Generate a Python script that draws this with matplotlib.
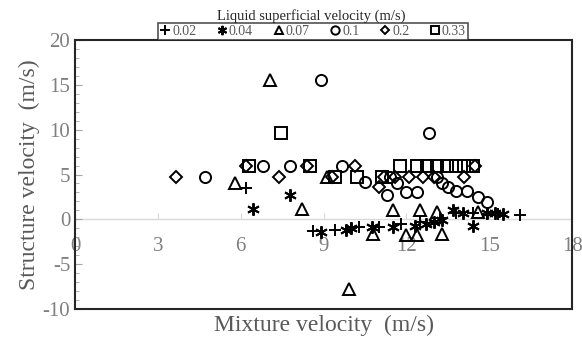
#!/usr/bin/env python3
"""
Structure velocity vs. mixture velocity, grouped by liquid superficial velocity.
"""

import matplotlib
matplotlib.use('Agg')
import matplotlib.pyplot as plt
from matplotlib.ticker import MultipleLocator

plt.rcParams['font.family'] = ['Liberation Serif', 'DejaVu Serif']
plt.rcParams['axes.unicode_minus'] = False

GRAY = '#595959'

# Liquid superficial velocity groups (m/s)
labels = ['0.02', '0.04', '0.07', '0.1', '0.2', '0.33']

x_002 = [6.2, 8.6, 9.4, 10.0, 10.3, 11.0, 11.8, 12.5, 13.2, 13.8, 14.4, 14.9, 15.3, 16.1]
y_002 = [3.5, -1.3, -1.2, -1.0, -0.9, -0.8, -0.5, -0.3, 0.1, 0.7, 0.7, 0.6, 0.6, 0.45]

x_004 = [6.45, 7.8, 8.9, 9.8, 10.0, 10.75, 11.5, 12.3, 12.7, 13.0, 13.3, 13.7,
         14.05, 14.4, 14.9, 15.2, 15.5]
y_004 = [1.2, 2.7, -1.4, -1.2, -1.0, -0.9, -0.8, -0.7, -0.5, -0.3, -0.1, 1.0,
         0.7, -0.7, 0.7, 0.7, 0.6]

x_007 = [5.8, 7.06, 8.2, 9.13, 9.92, 10.8, 11.5, 12.0, 12.4, 12.5, 13.1, 13.3, 14.6]
y_007 = [4.0, 15.5, 1.2, 4.7, -7.8, -1.6, 1.0, -1.8, -1.8, 1.0, 0.8, -1.6, 0.8]

x_01 = [4.71, 6.8, 7.8, 8.91, 9.67, 10.5, 11.3, 11.4, 11.66, 12.0, 12.4, 12.82,
        13.1, 13.3, 13.5, 13.8, 14.2, 14.6, 14.9]
y_01 = [4.7, 5.9, 5.9, 15.5, 5.9, 4.2, 2.7, 4.7, 4.0, 3.0, 3.0, 9.6,
        4.7, 4.1, 3.6, 3.2, 3.2, 2.5, 1.9]

x_02 = [3.66, 6.2, 7.4, 8.4, 9.3, 10.14, 11.0, 11.2, 11.6, 12.1, 12.6, 13.0, 14.1, 14.5]
y_02 = [4.7, 5.9, 4.7, 5.9, 4.7, 5.9, 3.6, 4.7, 4.7, 4.7, 4.7, 4.7, 4.7, 6.0]

x_033 = [6.3, 7.46, 8.5, 9.4, 10.2, 11.1, 11.77, 12.39, 12.75, 13.11, 13.47, 13.8, 14.1, 14.4]
y_033 = [5.9, 9.6, 5.9, 4.7, 4.7, 4.7, 5.9, 5.9, 5.9, 5.9, 5.9, 5.9, 5.9, 5.9]

series = [(x_002, y_002, '+', 9), (x_004, y_004, (6, 2, 0), 9),
          (x_007, y_007, '^', 8), (x_01, y_01, 'o', 8),
          (x_02, y_02, 'D', 6), (x_033, y_033, 's', 8)]


def main():
    fig = plt.figure(figsize=(5.82, 3.39), dpi=100)
    ax = fig.add_axes([0.129, 0.0885, 0.854, 0.7935])

    handles = []
    for (xs, ys, mk, ms), lab in zip(series, labels):
        h, = ax.plot(xs, ys, linestyle='none', marker=mk, markersize=ms,
                     markerfacecolor='none', markeredgecolor='black',
                     markeredgewidth=1.4, label=lab)
        handles.append(h)

    ax.set_xlim(0, 18)
    ax.set_ylim(-10, 20)
    ax.axhline(0, color='#d9d9d9', linewidth=1, zorder=0)

    for s in ax.spines.values():
        s.set_color('#262626')
        s.set_linewidth(1.5)

    # y axis
    ax.yaxis.set_major_locator(MultipleLocator(5))
    ax.yaxis.set_minor_locator(MultipleLocator(1))
    ax.tick_params(axis='y', which='both', direction='in', colors='#a6a6a6',
                   labelcolor='#7f7f7f', labelsize=15)
    ax.tick_params(axis='y', which='major', length=5)
    ax.tick_params(axis='y', which='minor', length=3)
    ax.set_ylabel('Structure velocity  (m/s)', fontsize=17, color=GRAY, labelpad=2)

    # x tick labels sit on the zero line
    ax.set_xticks([])
    sec = ax.secondary_xaxis(1 / 3)
    sec.set_xticks([0, 3, 6, 9, 12, 15, 18])
    sec.spines['bottom'].set_visible(False)
    sec.tick_params(direction='in', length=4, color='#d9d9d9', labelcolor='#7f7f7f',
                    labelsize=15, pad=13)
    ax.set_xlabel('Mixture velocity  (m/s)', fontsize=17, color=GRAY, labelpad=4)

    fig.text(0.535, 0.952, 'Liquid superficial velocity (m/s)', ha='center',
             va='center', fontsize=10.5, color='#262626')
    leg = fig.legend(handles=handles, loc='lower center', ncol=6,
                     bbox_to_anchor=(0.538, 0.882), borderaxespad=0,
                     fontsize=10, markerscale=0.75, handlelength=0.7,
                     handletextpad=0.15, columnspacing=1.5, borderpad=0.15,
                     fancybox=False, frameon=True, labelcolor=GRAY)
    leg.get_frame().set_edgecolor('#262626')
    leg.get_frame().set_linewidth(1.2)

    fig.savefig('out.png', dpi=100)


if __name__ == '__main__':
    main()
